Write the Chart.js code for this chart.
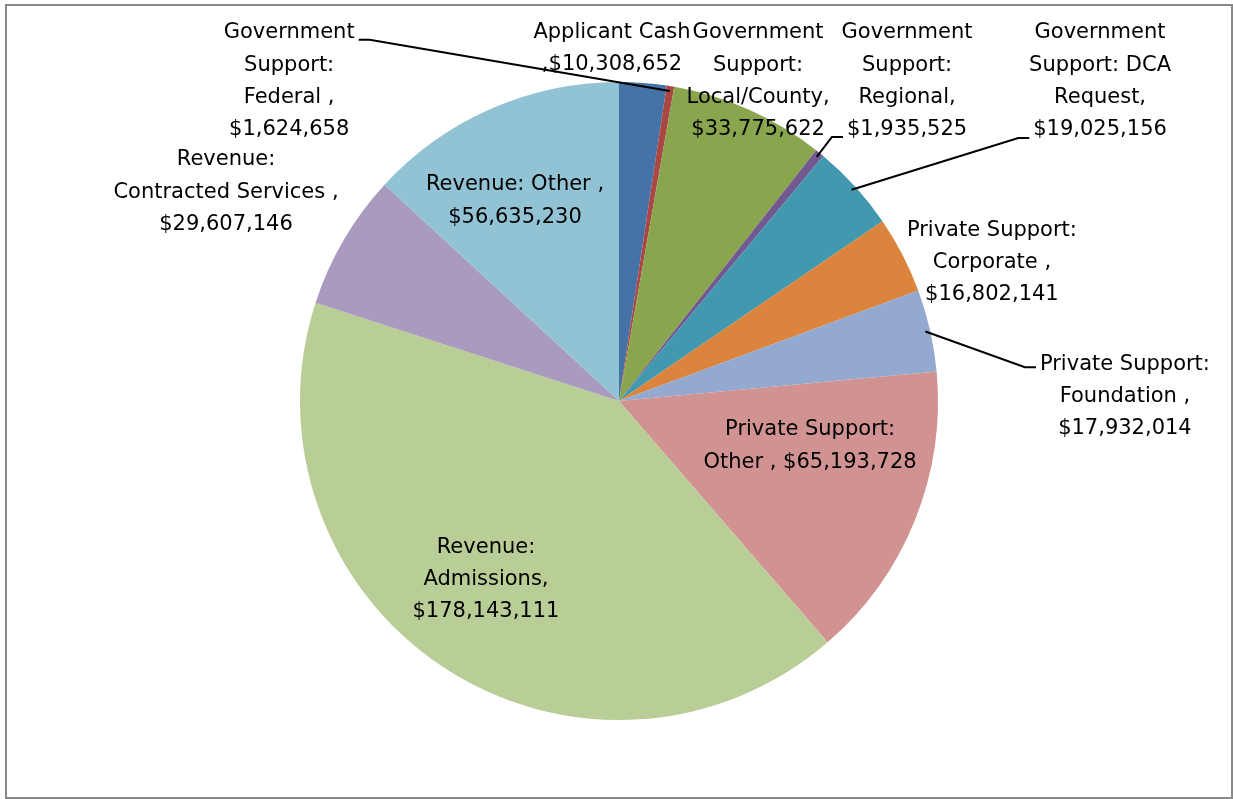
<!DOCTYPE html>
<html>
<head>
<meta charset="utf-8">
<title>Income sources</title>
<script src="https://cdn.jsdelivr.net/npm/chart.js@4.4.1/dist/chart.umd.min.js"></script>
<style>
    html, body { margin: 0; padding: 0; background: #fff; }
    #wrap { width: 1233px; height: 799px; }
</style>
</head>
<body>
<div id="wrap"><canvas id="pie" width="1233" height="799"></canvas></div>
<script>
// slices, clockwise from 12 o'clock
var categories = [
    'Applicant Cash',
    'Government Support: Federal',
    'Government Support: Local/County',
    'Government Support: Regional',
    'Government Support: DCA Request',
    'Private Support: Corporate',
    'Private Support: Foundation',
    'Private Support: Other',
    'Revenue: Admissions',
    'Revenue: Contracted Services',
    'Revenue: Other'
];
var amounts = [10308652, 1624658, 33775622, 1935525, 19025156, 16802141, 17932014, 65193728, 178143111, 29607146, 56635230];

var sliceColors = ['#4572A7', '#AA4643', '#89A54E', '#71588F', '#4198AF', '#DB843D', '#93A9CF', '#D19392', '#B9CD96', '#A99BBD', '#92C3D4'];

// wrapped label text as Excel laid it out, {v} = formatted amount
var labelLines = [
    ['Applicant Cash', ',{v}'],
    ['Government', 'Support:', 'Federal ,', '{v}'],
    ['Government', 'Support:', 'Local/County,', '{v}'],
    ['Government', 'Support:', 'Regional,', '{v}'],
    ['Government', 'Support: DCA', 'Request,', '{v}'],
    ['Private Support:', 'Corporate ,', '{v}'],
    ['Private Support:', 'Foundation ,', '{v}'],
    ['Private Support:', 'Other , {v}'],
    ['Revenue:', 'Admissions,', '{v}'],
    ['Revenue:', 'Contracted Services ,', '{v}'],
    ['Revenue: Other ,', '{v}']
];

// centre of each label block, in pie radii from the pie centre
var labelSpots = [
    [-0.022, -1.105],
    [-1.034, -1.002],
    [0.436, -1.002],
    [0.903, -1.002],
    [1.508, -1.002],
    [1.169, -0.434],
    [1.586, -0.014],
    [0.599, 0.141],
    [-0.417, 0.560],
    [-1.232, -0.655],
    [-0.326, -0.627]
];

// leader lines: slice index -> text line they hang off, side, vertical nudge
var leaders = {
    1: { line: 0, side: 'right', dy: 7 },
    3: { line: 3, side: 'left', dy: 7 },
    4: { line: 3, side: 'left', dy: 8 },
    6: { line: 0, side: 'left', dy: 3 }
};

var labelFont = '21px "DejaVu Sans"';
var lineH = 32.4;

function money(n) {
    return '$' + n.toLocaleString('en-US');
}

var excelLabels = {
    id: 'excelLabels',
    afterDatasetsDraw(chart) {
        var ctx = chart.ctx;
        var arcs = chart.getDatasetMeta(0).data;
        ctx.save();
        ctx.font = labelFont;
        ctx.fillStyle = '#000';
        ctx.textAlign = 'center';
        ctx.textBaseline = 'middle';

        arcs.forEach((arc, i) => {
            var R = arc.outerRadius;
            var cx = arc.x + labelSpots[i][0] * R;
            var cy = arc.y + labelSpots[i][1] * R;
            var lines = labelLines[i].map(t => t.replace('{v}', money(amounts[i])));
            var top = cy - (lines.length - 1) / 2 * lineH;

            lines.forEach((t, k) => ctx.fillText(t, cx, top + k * lineH));

            var ld = leaders[i];
            if (!ld) return;
            var w = ctx.measureText(lines[ld.line]).width;
            var ly = top + ld.line * lineH + ld.dy;
            var dir = ld.side === 'right' ? 1 : -1;
            var x0 = cx + dir * (w / 2 + 4);
            var x1 = x0 + dir * 11;
            var a = (arc.startAngle + arc.endAngle) / 2;
            var px = arc.x + Math.cos(a) * R * 0.985;
            var py = arc.y + Math.sin(a) * R * 0.985;

            ctx.beginPath();
            ctx.strokeStyle = '#000';
            ctx.lineWidth = 2;
            ctx.moveTo(x0, ly);
            ctx.lineTo(x1, ly);
            ctx.lineTo(px, py);
            ctx.stroke();
        });
        ctx.restore();
    },
    afterDraw(chart) {
        var ctx = chart.ctx;
        ctx.save();
        ctx.strokeStyle = '#898989';
        ctx.lineWidth = 2;
        ctx.strokeRect(6, 5, 1226, 793);
        ctx.restore();
    }
};

new Chart(document.getElementById('pie').getContext('2d'), {
    type: 'pie',
    data: {
        labels: categories,
        datasets: [{
            data: amounts,
            backgroundColor: sliceColors,
            borderWidth: 0
        }]
    },
    options: {
        responsive: false,
        animation: false,
        layout: { padding: { left: 300, right: 295, top: 82, bottom: 79 } },
        plugins: {
            legend: { display: false },
            tooltip: { enabled: false }
        }
    },
    plugins: [excelLabels]
});
</script>
</body>
</html>
